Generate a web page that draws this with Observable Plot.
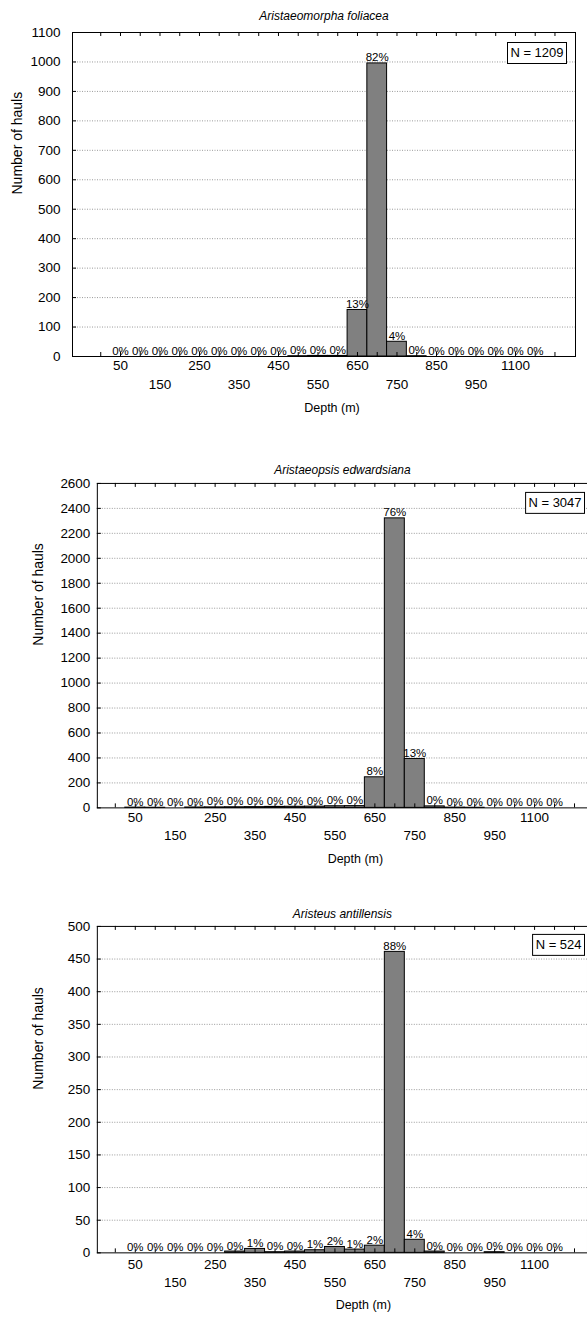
<!DOCTYPE html>
<html><head><meta charset="utf-8">
<script src="https://cdn.jsdelivr.net/npm/d3@7"></script>
<script src="https://cdn.jsdelivr.net/npm/@observablehq/plot@0.6"></script>
<style>
html,body{margin:0;padding:0;background:#fff;overflow:hidden;width:587px;height:1324px;}
#wrap{width:587px;overflow:hidden;}
#wrap svg{display:block;}
</style></head><body><div id="wrap"></div>
<script>
// ---- data ----
const depthCategories = ["50","100","150","200","250","300","350","400","450","500","550","600","650","700","750","800","850","900","950","1000","1100","1200"];
const tickRow1 = ["50","250","450","650","850","1100"];
const tickRow2 = ["150","350","550","750","950"];

const titles = ["Aristaeomorpha foliacea","Aristaeopsis edwardsiana","Aristeus antillensis"];
const totals = ["N = 1209","N = 3047","N = 524"];

const foliaceaHauls = [0,0,0,0,0,0,0,0,0,1,2,2,158,995,50,1,0,0,0,0,0,0];
const foliaceaPct   = ["0%","0%","0%","0%","0%","0%","0%","0%","0%","0%","0%","0%","13%","82%","4%","0%","0%","0%","0%","0%","0%","0%"];
const edwardsianaHauls = [2,1,0,3,4,5,6,8,9,10,13,14,245,2320,392,12,2,1,0,0,0,0];
const edwardsianaPct   = ["0%","0%","0%","0%","0%","0%","0%","0%","0%","0%","0%","0%","8%","76%","13%","0%","0%","0%","0%","0%","0%","0%"];
const antillensisHauls = [0,0,0,0,0,2,6,1,2,4,9,5,11,461,20,2,0,0,1,0,0,0];
const antillensisPct   = ["0%","0%","0%","0%","0%","0%","1%","0%","0%","1%","2%","1%","2%","88%","4%","0%","0%","0%","0%","0%","0%","0%"];

const yTicks1 = [0,100,200,300,400,500,600,700,800,900,1000,1100];
const yTicks2 = [0,200,400,600,800,1000,1200,1400,1600,1800,2000,2200,2400,2600];
const yTicks3 = [0,50,100,150,200,250,300,350,400,450,500];

const yTitle = "Number of hauls";
const xTitle = "Depth (m)";

// ---- layout ----
const layouts = [
  {width:587, height:440, ml:72, mr:12, mt:32, mb:84, xDomain:[-2.43, 23.04], titleDy:-21, ylab:55, yPad:12, row1:13, row2:32, xlab:55, xlabDx:8,  nTop:10, boxRight:9},
  {width:588, height:440, ml:97, mr:0,  mt:43, mb:72, xDomain:[-1.9, 22.65],  titleDy:-18, ylab:59, yPad:7,  row1:14, row2:32, xlab:55, xlabDx:13, nTop:9,  boxRight:3},
  {width:588, height:444, ml:97, mr:0,  mt:47, mb:70, xDomain:[-1.9, 22.65],  titleDy:-17, ylab:59, yPad:7,  row1:16, row2:34, xlab:56, xlabDx:21, nTop:8,  boxRight:3}
];

const FONT = "Arial, 'Liberation Sans', Helvetica, sans-serif";

function panel(title, nLabel, counts, pcts, yTicks, L) {
  const data = depthCategories.map((c, i) => ({i, c, n: counts[i], p: pcts[i]}));
  const frameW = L.width - L.ml - L.mr;
  const frameH = L.height - L.mt - L.mb;
  const tickPos = d3.range(-1, depthCategories.length + 1);
  const yMax = yTicks[yTicks.length - 1];
  const idx = d => depthCategories.indexOf(d);
  return Plot.plot({
    width: L.width, height: L.height,
    marginLeft: L.ml, marginRight: L.mr, marginTop: L.mt, marginBottom: L.mb,
    x: {domain: L.xDomain, axis: null},
    y: {domain: [0, yMax], axis: null},
    style: {fontFamily: FONT, fontSize: "13px", color: "black", background: "white", overflow: "visible"},
    marks: [
      Plot.gridY(yTicks.slice(1, -1), {stroke: "#9a9a9a", strokeOpacity: 1, strokeDasharray: "1,1.5", strokeWidth: 1}),
      Plot.rectY(data.filter(d => d.n > 0), {x1: d => d.i - 0.5, x2: d => d.i + 0.5, y1: 0, y2: "n", fill: "#808080", stroke: "black", strokeWidth: 1}),
      Plot.text(data, {x: "i", y: "n", text: "p", lineAnchor: "bottom", dy: -2, fontSize: 11.5, fill: "black"}),
      Plot.frame({stroke: "black", strokeWidth: 1}),
      Plot.tickX(tickPos, {x: d => d, insetBottom: frameH - 4, stroke: "black"}),
      Plot.tickX(tickPos, {x: d => d, insetTop: frameH - 4, stroke: "black"}),
      Plot.tickY(yTicks, {y: d => d, insetRight: frameW - 4, stroke: "black"}),
      Plot.axisY({ticks: yTicks, tickSize: 0, tickPadding: L.yPad, tickFormat: d => String(d), label: null, fontSize: 13.5, fill: "black"}),
      Plot.text(tickRow1, {x: idx, text: d => d, frameAnchor: "bottom", dy: L.row1, fontSize: 13.5, fill: "black"}),
      Plot.text(tickRow2, {x: idx, text: d => d, frameAnchor: "bottom", dy: L.row2, fontSize: 13.5, fill: "black"}),
      Plot.text([xTitle], {frameAnchor: "bottom", dx: L.xlabDx, dy: L.xlab, fontSize: 12.5, fill: "black"}),
      Plot.text([yTitle], {frameAnchor: "left", dx: -L.ylab, rotate: -90, fontSize: 14, fill: "black"}),
      Plot.text([title], {frameAnchor: "top", dy: L.titleDy, fontStyle: "italic", fontSize: 12, fill: "black"}),
      Plot.text([nLabel], {frameAnchor: "top-right", dx: -(L.boxRight + 3), dy: L.nTop + 10.5, textAnchor: "end", lineAnchor: "middle", fontSize: 13, fill: "black"})
    ]
  });
}

const wrap = document.getElementById("wrap");
const panelsData = [
  [foliaceaHauls, foliaceaPct, yTicks1],
  [edwardsianaHauls, edwardsianaPct, yTicks2],
  [antillensisHauls, antillensisPct, yTicks3]
];
panelsData.forEach(([counts, pcts, yt], k) => {
  const L = layouts[k];
  const svg = panel(titles[k], totals[k], counts, pcts, yt, L);
  wrap.appendChild(svg);
  // white box with black border around the N label
  const t = Array.from(svg.querySelectorAll("text")).find(e => e.textContent === totals[k]);
  if (t) {
    const svgRect = svg.getBoundingClientRect();
    const tRect = t.getBoundingClientRect();
    const left = Math.round(tRect.left - svgRect.left - 3) + 0.5;
    const right = L.width - L.mr - L.boxRight + 0.5;
    const top = L.mt + L.nTop + 0.5;
    const rect = document.createElementNS("http://www.w3.org/2000/svg", "rect");
    rect.setAttribute("x", left);
    rect.setAttribute("y", top);
    rect.setAttribute("width", right - left);
    rect.setAttribute("height", 21);
    rect.setAttribute("fill", "white");
    rect.setAttribute("stroke", "black");
    rect.setAttribute("stroke-width", "1");
    const g = t.closest("g");
    svg.insertBefore(rect, g);
  }
});
</script>
</body></html>
